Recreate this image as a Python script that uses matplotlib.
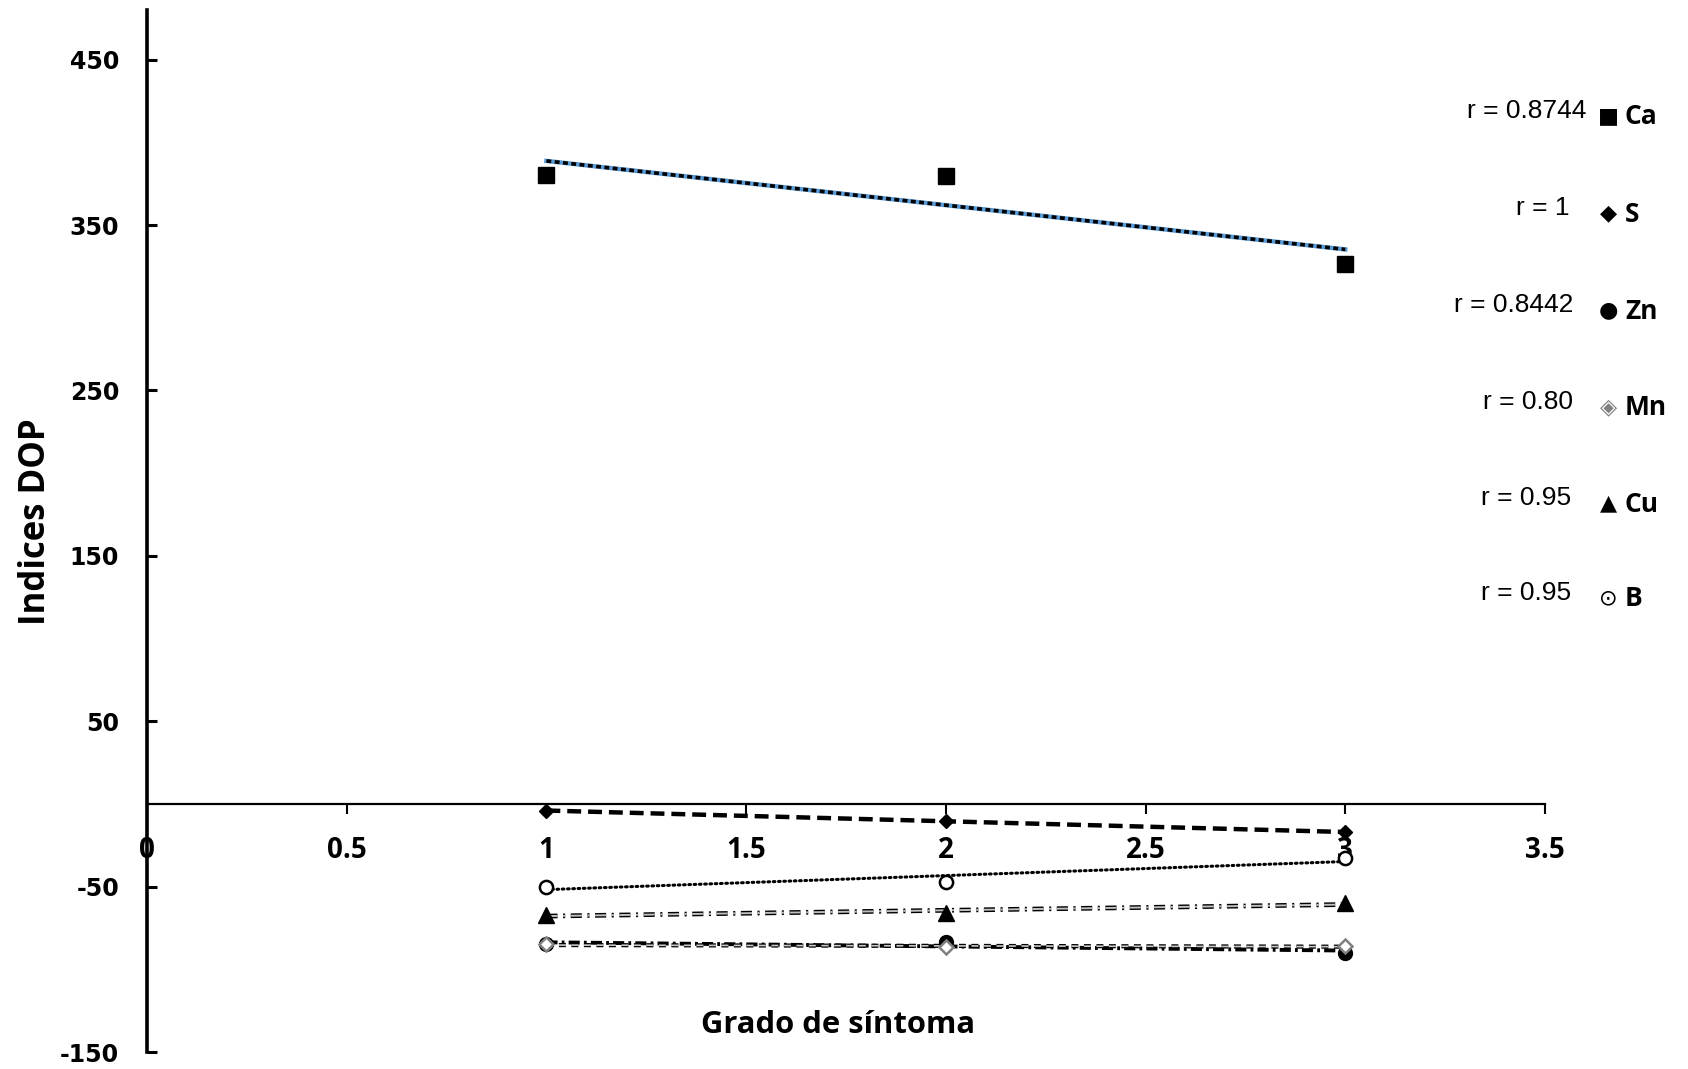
import numpy as np
import matplotlib.pyplot as plt

plt.rcParams['lines.scale_dashes'] = False

# Grado de síntoma
grado = [1, 2, 3]

# Indices DOP por elemento
ca = [380, 379.5, 326.5]
s = [-4, -10.5, -17]
zn = [-85, -83.5, -90]
mn = [-85, -86.5, -86]
cu = [-67, -66, -60]
b = [-50, -47, -33]

elementos = ['Ca', 'S', 'Zn', 'Mn', 'Cu', 'B']
r_textos = ['r = 0.8744', 'r = 1', 'r = 0.8442', 'r = 0.80', 'r = 0.95', 'r = 0.95']
simbolos = ['■', '◆', '●', '◈', '▲', '⊙']
colores_simbolo = ['black', 'black', 'black', '#808080', 'black', 'black']

xticks = [0, 0.5, 1, 1.5, 2, 2.5, 3, 3.5]
xticklabels = ['0', '0.5', '1', '1.5', '2', '2.5', '3', '3.5']
yticks = [-150, -50, 50, 150, 250, 350, 450]

W, H = 1688, 1069
fig = plt.figure(figsize=(W / 100, H / 100), dpi=100)
ax = fig.add_axes([147 / W, 1 - 1052 / H, (1545 - 147) / W, (1052 - 10) / H])


def trend(y):
    k, c = np.polyfit(grado, y, 1)
    xs = np.array([grado[0], grado[-1]])
    return xs, k * xs + c


# lineas de tendencia
xs, ys = trend(ca)
ax.plot(xs, ys, color='#5B9BD5', lw=3.2, zorder=2)
ax.plot(xs, ys, color='black', lw=2.6, dashes=(3.5, 2.5), zorder=3)

xs, ys = trend(s)
ax.plot(xs, ys, color='black', lw=3.2, dashes=(10, 5), zorder=2)

xs, ys = trend(b)
ax.plot(xs, ys, color='black', lw=2.2, dashes=(1.2, 2.6), dash_capstyle='round', zorder=2)

xs, ys = trend(cu)
ax.plot(xs, ys, color='black', lw=3.4, dashes=(8, 4, 1.5, 4), zorder=2)
ax.plot(xs, ys, color='#c0c0c0', lw=1.4, dashes=(8, 4, 1.5, 4), zorder=2)

xs, ys = trend(zn)
ax.plot(xs, ys, color='black', lw=2.8, dashes=(8, 3, 2, 3), zorder=2)

xs, ys = trend(mn)
ax.plot(xs, ys, color='black', lw=3.0, dashes=(5, 4), zorder=2)
ax.plot(xs, ys, color='#c8c8c8', lw=1.2, dashes=(5, 4), zorder=2)

# puntos
ax.plot(grado, ca, 's', color='black', ms=11, zorder=4)
ax.plot(grado, s, 'D', color='black', ms=7.5, zorder=4)
ax.plot(grado, zn, 'o', color='black', ms=10, zorder=4)
ax.plot(grado, mn, 'D', mfc='white', mec='#808080', mew=1.8, ms=7, zorder=5)
ax.plot(grado, cu, '^', color='black', ms=11, zorder=4)
ax.plot(grado, b, 'o', mfc='white', mec='black', mew=1.8, ms=9.5, zorder=4)

ax.set_xlim(0, 3.5)
ax.set_ylim(-150, 480)

ax.spines['top'].set_visible(False)
ax.spines['right'].set_visible(False)
ax.spines['left'].set_linewidth(2.6)
ax.spines['bottom'].set_position(('data', 0))
ax.spines['bottom'].set_linewidth(1.6)

ax.set_xticks(xticks)
ax.set_xticklabels(xticklabels, fontfamily='Open Sans', fontweight='bold', fontsize=20)
ax.set_yticks(yticks)
ax.set_yticklabels([str(v) for v in yticks], fontfamily='DejaVu Sans', fontweight='bold', fontsize=17)
ax.tick_params(axis='x', direction='out', length=7, width=1.5, pad=16)
ax.tick_params(axis='y', direction='in', length=7, width=2.2, pad=20)

fig.text(838 / W, 1 - 1025 / H, 'Grado de síntoma', ha='center', va='center',
         fontfamily='Open Sans', fontweight='bold', fontsize=22.3)
fig.text(36 / W, 1 - 522 / H, 'Indices DOP', ha='center', va='center', rotation=90,
         fontfamily='Open Sans', fontweight='bold', fontsize=25)

# etiquetas de correlacion a la derecha
filas_y = [115, 212, 309, 406, 502, 597]
r_derecha = [1586, 1570, 1573, 1573, 1571, 1571]
for el, rt, sym, col, fy, rx in zip(elementos, r_textos, simbolos, colores_simbolo, filas_y, r_derecha):
    fig.text(rx / W, 1 - (fy - 4) / H, rt, ha='right', va='center',
             fontfamily='Liberation Sans', fontsize=19)
    fig.text(1608 / W, 1 - (fy + 1) / H, sym, ha='center', va='center', color=col,
             fontfamily='DejaVu Sans', fontsize=16)
    fig.text(1625 / W, 1 - (fy + 2) / H, el, ha='left', va='center',
             fontfamily='Open Sans', fontweight='bold', fontsize=19)

fig.savefig('out.png', dpi=100)
